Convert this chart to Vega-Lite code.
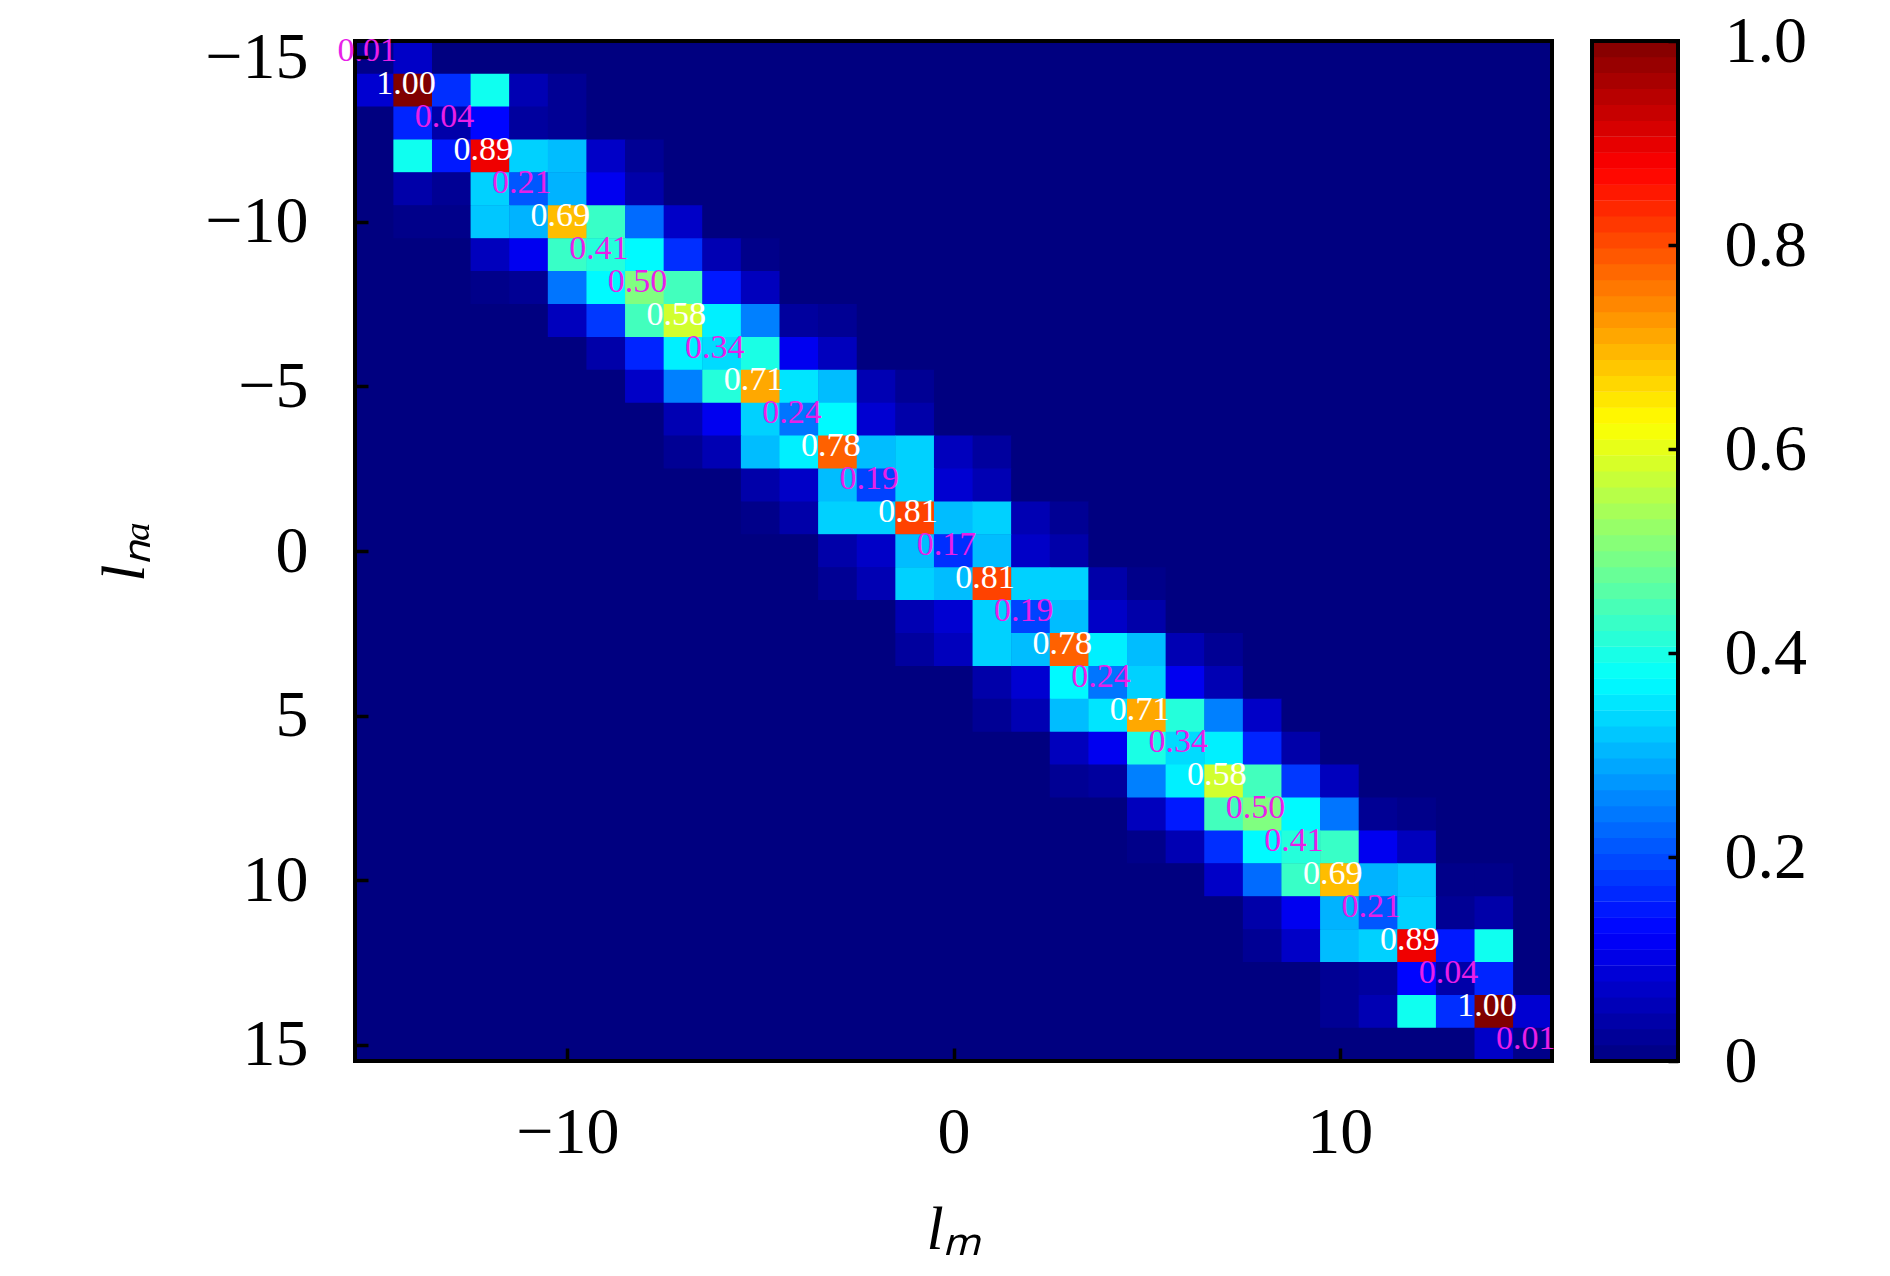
{"$schema":"https://vega.github.io/schema/vega-lite/v6.json","background":"white","padding":{"left":93,"top":8,"right":0,"bottom":0},"config":{"view":{"stroke":null},"font":"Liberation Serif"},"spacing":34,
"datasets":{"cells":[
{"m":-15,"n":-15,"v":0.01},{"m":-14,"n":-15,"v":0.07},{"m":-13,"n":-15,"v":0},{"m":-12,"n":-15,"v":0},{"m":-11,"n":-15,"v":0},{"m":-10,"n":-15,"v":0},{"m":-9,"n":-15,"v":0},{"m":-8,"n":-15,"v":0},{"m":-7,"n":-15,"v":0},{"m":-6,"n":-15,"v":0},{"m":-5,"n":-15,"v":0},{"m":-4,"n":-15,"v":0},{"m":-3,"n":-15,"v":0},{"m":-2,"n":-15,"v":0},{"m":-1,"n":-15,"v":0},{"m":0,"n":-15,"v":0},{"m":1,"n":-15,"v":0},{"m":2,"n":-15,"v":0},{"m":3,"n":-15,"v":0},{"m":4,"n":-15,"v":0},{"m":5,"n":-15,"v":0},{"m":6,"n":-15,"v":0},{"m":7,"n":-15,"v":0},{"m":8,"n":-15,"v":0},{"m":9,"n":-15,"v":0},{"m":10,"n":-15,"v":0},{"m":11,"n":-15,"v":0},{"m":12,"n":-15,"v":0},{"m":13,"n":-15,"v":0},{"m":14,"n":-15,"v":0},{"m":15,"n":-15,"v":0},
{"m":-15,"n":-14,"v":0.08},{"m":-14,"n":-14,"v":1},{"m":-13,"n":-14,"v":0.17},{"m":-12,"n":-14,"v":0.39},{"m":-11,"n":-14,"v":0.05},{"m":-10,"n":-14,"v":0.02},{"m":-9,"n":-14,"v":0},{"m":-8,"n":-14,"v":0},{"m":-7,"n":-14,"v":0},{"m":-6,"n":-14,"v":0},{"m":-5,"n":-14,"v":0},{"m":-4,"n":-14,"v":0},{"m":-3,"n":-14,"v":0},{"m":-2,"n":-14,"v":0},{"m":-1,"n":-14,"v":0},{"m":0,"n":-14,"v":0},{"m":1,"n":-14,"v":0},{"m":2,"n":-14,"v":0},{"m":3,"n":-14,"v":0},{"m":4,"n":-14,"v":0},{"m":5,"n":-14,"v":0},{"m":6,"n":-14,"v":0},{"m":7,"n":-14,"v":0},{"m":8,"n":-14,"v":0},{"m":9,"n":-14,"v":0},{"m":10,"n":-14,"v":0},{"m":11,"n":-14,"v":0},{"m":12,"n":-14,"v":0},{"m":13,"n":-14,"v":0},{"m":14,"n":-14,"v":0},{"m":15,"n":-14,"v":0},
{"m":-15,"n":-13,"v":0},{"m":-14,"n":-13,"v":0.16},{"m":-13,"n":-13,"v":0.04},{"m":-12,"n":-13,"v":0.13},{"m":-11,"n":-13,"v":0.03},{"m":-10,"n":-13,"v":0.02},{"m":-9,"n":-13,"v":0},{"m":-8,"n":-13,"v":0},{"m":-7,"n":-13,"v":0},{"m":-6,"n":-13,"v":0},{"m":-5,"n":-13,"v":0},{"m":-4,"n":-13,"v":0},{"m":-3,"n":-13,"v":0},{"m":-2,"n":-13,"v":0},{"m":-1,"n":-13,"v":0},{"m":0,"n":-13,"v":0},{"m":1,"n":-13,"v":0},{"m":2,"n":-13,"v":0},{"m":3,"n":-13,"v":0},{"m":4,"n":-13,"v":0},{"m":5,"n":-13,"v":0},{"m":6,"n":-13,"v":0},{"m":7,"n":-13,"v":0},{"m":8,"n":-13,"v":0},{"m":9,"n":-13,"v":0},{"m":10,"n":-13,"v":0},{"m":11,"n":-13,"v":0},{"m":12,"n":-13,"v":0},{"m":13,"n":-13,"v":0},{"m":14,"n":-13,"v":0},{"m":15,"n":-13,"v":0},
{"m":-15,"n":-12,"v":0},{"m":-14,"n":-12,"v":0.39},{"m":-13,"n":-12,"v":0.15},{"m":-12,"n":-12,"v":0.89},{"m":-11,"n":-12,"v":0.33},{"m":-10,"n":-12,"v":0.31},{"m":-9,"n":-12,"v":0.07},{"m":-8,"n":-12,"v":0.02},{"m":-7,"n":-12,"v":0},{"m":-6,"n":-12,"v":0},{"m":-5,"n":-12,"v":0},{"m":-4,"n":-12,"v":0},{"m":-3,"n":-12,"v":0},{"m":-2,"n":-12,"v":0},{"m":-1,"n":-12,"v":0},{"m":0,"n":-12,"v":0},{"m":1,"n":-12,"v":0},{"m":2,"n":-12,"v":0},{"m":3,"n":-12,"v":0},{"m":4,"n":-12,"v":0},{"m":5,"n":-12,"v":0},{"m":6,"n":-12,"v":0},{"m":7,"n":-12,"v":0},{"m":8,"n":-12,"v":0},{"m":9,"n":-12,"v":0},{"m":10,"n":-12,"v":0},{"m":11,"n":-12,"v":0},{"m":12,"n":-12,"v":0},{"m":13,"n":-12,"v":0},{"m":14,"n":-12,"v":0},{"m":15,"n":-12,"v":0},
{"m":-15,"n":-11,"v":0},{"m":-14,"n":-11,"v":0.04},{"m":-13,"n":-11,"v":0.02},{"m":-12,"n":-11,"v":0.33},{"m":-11,"n":-11,"v":0.21},{"m":-10,"n":-11,"v":0.3},{"m":-9,"n":-11,"v":0.11},{"m":-8,"n":-11,"v":0.04},{"m":-7,"n":-11,"v":0},{"m":-6,"n":-11,"v":0},{"m":-5,"n":-11,"v":0},{"m":-4,"n":-11,"v":0},{"m":-3,"n":-11,"v":0},{"m":-2,"n":-11,"v":0},{"m":-1,"n":-11,"v":0},{"m":0,"n":-11,"v":0},{"m":1,"n":-11,"v":0},{"m":2,"n":-11,"v":0},{"m":3,"n":-11,"v":0},{"m":4,"n":-11,"v":0},{"m":5,"n":-11,"v":0},{"m":6,"n":-11,"v":0},{"m":7,"n":-11,"v":0},{"m":8,"n":-11,"v":0},{"m":9,"n":-11,"v":0},{"m":10,"n":-11,"v":0},{"m":11,"n":-11,"v":0},{"m":12,"n":-11,"v":0},{"m":13,"n":-11,"v":0},{"m":14,"n":-11,"v":0},{"m":15,"n":-11,"v":0},
{"m":-15,"n":-10,"v":0},{"m":-14,"n":-10,"v":0.01},{"m":-13,"n":-10,"v":0.01},{"m":-12,"n":-10,"v":0.32},{"m":-11,"n":-10,"v":0.3},{"m":-10,"n":-10,"v":0.69},{"m":-9,"n":-10,"v":0.43},{"m":-8,"n":-10,"v":0.23},{"m":-7,"n":-10,"v":0.07},{"m":-6,"n":-10,"v":0},{"m":-5,"n":-10,"v":0},{"m":-4,"n":-10,"v":0},{"m":-3,"n":-10,"v":0},{"m":-2,"n":-10,"v":0},{"m":-1,"n":-10,"v":0},{"m":0,"n":-10,"v":0},{"m":1,"n":-10,"v":0},{"m":2,"n":-10,"v":0},{"m":3,"n":-10,"v":0},{"m":4,"n":-10,"v":0},{"m":5,"n":-10,"v":0},{"m":6,"n":-10,"v":0},{"m":7,"n":-10,"v":0},{"m":8,"n":-10,"v":0},{"m":9,"n":-10,"v":0},{"m":10,"n":-10,"v":0},{"m":11,"n":-10,"v":0},{"m":12,"n":-10,"v":0},{"m":13,"n":-10,"v":0},{"m":14,"n":-10,"v":0},{"m":15,"n":-10,"v":0},
{"m":-15,"n":-9,"v":0},{"m":-14,"n":-9,"v":0},{"m":-13,"n":-9,"v":0},{"m":-12,"n":-9,"v":0.06},{"m":-11,"n":-9,"v":0.11},{"m":-10,"n":-9,"v":0.43},{"m":-9,"n":-9,"v":0.41},{"m":-8,"n":-9,"v":0.37},{"m":-7,"n":-9,"v":0.17},{"m":-6,"n":-9,"v":0.05},{"m":-5,"n":-9,"v":0.01},{"m":-4,"n":-9,"v":0},{"m":-3,"n":-9,"v":0},{"m":-2,"n":-9,"v":0},{"m":-1,"n":-9,"v":0},{"m":0,"n":-9,"v":0},{"m":1,"n":-9,"v":0},{"m":2,"n":-9,"v":0},{"m":3,"n":-9,"v":0},{"m":4,"n":-9,"v":0},{"m":5,"n":-9,"v":0},{"m":6,"n":-9,"v":0},{"m":7,"n":-9,"v":0},{"m":8,"n":-9,"v":0},{"m":9,"n":-9,"v":0},{"m":10,"n":-9,"v":0},{"m":11,"n":-9,"v":0},{"m":12,"n":-9,"v":0},{"m":13,"n":-9,"v":0},{"m":14,"n":-9,"v":0},{"m":15,"n":-9,"v":0},
{"m":-15,"n":-8,"v":0},{"m":-14,"n":-8,"v":0},{"m":-13,"n":-8,"v":0},{"m":-12,"n":-8,"v":0.01},{"m":-11,"n":-8,"v":0.02},{"m":-10,"n":-8,"v":0.24},{"m":-9,"n":-8,"v":0.37},{"m":-8,"n":-8,"v":0.5},{"m":-7,"n":-8,"v":0.44},{"m":-6,"n":-8,"v":0.15},{"m":-5,"n":-8,"v":0.06},{"m":-4,"n":-8,"v":0},{"m":-3,"n":-8,"v":0},{"m":-2,"n":-8,"v":0},{"m":-1,"n":-8,"v":0},{"m":0,"n":-8,"v":0},{"m":1,"n":-8,"v":0},{"m":2,"n":-8,"v":0},{"m":3,"n":-8,"v":0},{"m":4,"n":-8,"v":0},{"m":5,"n":-8,"v":0},{"m":6,"n":-8,"v":0},{"m":7,"n":-8,"v":0},{"m":8,"n":-8,"v":0},{"m":9,"n":-8,"v":0},{"m":10,"n":-8,"v":0},{"m":11,"n":-8,"v":0},{"m":12,"n":-8,"v":0},{"m":13,"n":-8,"v":0},{"m":14,"n":-8,"v":0},{"m":15,"n":-8,"v":0},
{"m":-15,"n":-7,"v":0},{"m":-14,"n":-7,"v":0},{"m":-13,"n":-7,"v":0},{"m":-12,"n":-7,"v":0},{"m":-11,"n":-7,"v":0},{"m":-10,"n":-7,"v":0.06},{"m":-9,"n":-7,"v":0.18},{"m":-8,"n":-7,"v":0.44},{"m":-7,"n":-7,"v":0.58},{"m":-6,"n":-7,"v":0.36},{"m":-5,"n":-7,"v":0.25},{"m":-4,"n":-7,"v":0.03},{"m":-3,"n":-7,"v":0.02},{"m":-2,"n":-7,"v":0},{"m":-1,"n":-7,"v":0},{"m":0,"n":-7,"v":0},{"m":1,"n":-7,"v":0},{"m":2,"n":-7,"v":0},{"m":3,"n":-7,"v":0},{"m":4,"n":-7,"v":0},{"m":5,"n":-7,"v":0},{"m":6,"n":-7,"v":0},{"m":7,"n":-7,"v":0},{"m":8,"n":-7,"v":0},{"m":9,"n":-7,"v":0},{"m":10,"n":-7,"v":0},{"m":11,"n":-7,"v":0},{"m":12,"n":-7,"v":0},{"m":13,"n":-7,"v":0},{"m":14,"n":-7,"v":0},{"m":15,"n":-7,"v":0},
{"m":-15,"n":-6,"v":0},{"m":-14,"n":-6,"v":0},{"m":-13,"n":-6,"v":0},{"m":-12,"n":-6,"v":0},{"m":-11,"n":-6,"v":0},{"m":-10,"n":-6,"v":0},{"m":-9,"n":-6,"v":0.04},{"m":-8,"n":-6,"v":0.16},{"m":-7,"n":-6,"v":0.36},{"m":-6,"n":-6,"v":0.34},{"m":-5,"n":-6,"v":0.4},{"m":-4,"n":-6,"v":0.11},{"m":-3,"n":-6,"v":0.06},{"m":-2,"n":-6,"v":0},{"m":-1,"n":-6,"v":0},{"m":0,"n":-6,"v":0},{"m":1,"n":-6,"v":0},{"m":2,"n":-6,"v":0},{"m":3,"n":-6,"v":0},{"m":4,"n":-6,"v":0},{"m":5,"n":-6,"v":0},{"m":6,"n":-6,"v":0},{"m":7,"n":-6,"v":0},{"m":8,"n":-6,"v":0},{"m":9,"n":-6,"v":0},{"m":10,"n":-6,"v":0},{"m":11,"n":-6,"v":0},{"m":12,"n":-6,"v":0},{"m":13,"n":-6,"v":0},{"m":14,"n":-6,"v":0},{"m":15,"n":-6,"v":0},
{"m":-15,"n":-5,"v":0},{"m":-14,"n":-5,"v":0},{"m":-13,"n":-5,"v":0},{"m":-12,"n":-5,"v":0},{"m":-11,"n":-5,"v":0},{"m":-10,"n":-5,"v":0},{"m":-9,"n":-5,"v":0},{"m":-8,"n":-5,"v":0.07},{"m":-7,"n":-5,"v":0.25},{"m":-6,"n":-5,"v":0.41},{"m":-5,"n":-5,"v":0.71},{"m":-4,"n":-5,"v":0.35},{"m":-3,"n":-5,"v":0.31},{"m":-2,"n":-5,"v":0.05},{"m":-1,"n":-5,"v":0.02},{"m":0,"n":-5,"v":0},{"m":1,"n":-5,"v":0},{"m":2,"n":-5,"v":0},{"m":3,"n":-5,"v":0},{"m":4,"n":-5,"v":0},{"m":5,"n":-5,"v":0},{"m":6,"n":-5,"v":0},{"m":7,"n":-5,"v":0},{"m":8,"n":-5,"v":0},{"m":9,"n":-5,"v":0},{"m":10,"n":-5,"v":0},{"m":11,"n":-5,"v":0},{"m":12,"n":-5,"v":0},{"m":13,"n":-5,"v":0},{"m":14,"n":-5,"v":0},{"m":15,"n":-5,"v":0},
{"m":-15,"n":-4,"v":0},{"m":-14,"n":-4,"v":0},{"m":-13,"n":-4,"v":0},{"m":-12,"n":-4,"v":0},{"m":-11,"n":-4,"v":0},{"m":-10,"n":-4,"v":0},{"m":-9,"n":-4,"v":0},{"m":-8,"n":-4,"v":0},{"m":-7,"n":-4,"v":0.05},{"m":-6,"n":-4,"v":0.11},{"m":-5,"n":-4,"v":0.33},{"m":-4,"n":-4,"v":0.24},{"m":-3,"n":-4,"v":0.37},{"m":-2,"n":-4,"v":0.08},{"m":-1,"n":-4,"v":0.04},{"m":0,"n":-4,"v":0},{"m":1,"n":-4,"v":0},{"m":2,"n":-4,"v":0},{"m":3,"n":-4,"v":0},{"m":4,"n":-4,"v":0},{"m":5,"n":-4,"v":0},{"m":6,"n":-4,"v":0},{"m":7,"n":-4,"v":0},{"m":8,"n":-4,"v":0},{"m":9,"n":-4,"v":0},{"m":10,"n":-4,"v":0},{"m":11,"n":-4,"v":0},{"m":12,"n":-4,"v":0},{"m":13,"n":-4,"v":0},{"m":14,"n":-4,"v":0},{"m":15,"n":-4,"v":0},
{"m":-15,"n":-3,"v":0},{"m":-14,"n":-3,"v":0},{"m":-13,"n":-3,"v":0},{"m":-12,"n":-3,"v":0},{"m":-11,"n":-3,"v":0},{"m":-10,"n":-3,"v":0},{"m":-9,"n":-3,"v":0},{"m":-8,"n":-3,"v":0},{"m":-7,"n":-3,"v":0.02},{"m":-6,"n":-3,"v":0.05},{"m":-5,"n":-3,"v":0.31},{"m":-4,"n":-3,"v":0.36},{"m":-3,"n":-3,"v":0.78},{"m":-2,"n":-3,"v":0.31},{"m":-1,"n":-3,"v":0.33},{"m":0,"n":-3,"v":0.06},{"m":1,"n":-3,"v":0.03},{"m":2,"n":-3,"v":0},{"m":3,"n":-3,"v":0},{"m":4,"n":-3,"v":0},{"m":5,"n":-3,"v":0},{"m":6,"n":-3,"v":0},{"m":7,"n":-3,"v":0},{"m":8,"n":-3,"v":0},{"m":9,"n":-3,"v":0},{"m":10,"n":-3,"v":0},{"m":11,"n":-3,"v":0},{"m":12,"n":-3,"v":0},{"m":13,"n":-3,"v":0},{"m":14,"n":-3,"v":0},{"m":15,"n":-3,"v":0},
{"m":-15,"n":-2,"v":0},{"m":-14,"n":-2,"v":0},{"m":-13,"n":-2,"v":0},{"m":-12,"n":-2,"v":0},{"m":-11,"n":-2,"v":0},{"m":-10,"n":-2,"v":0},{"m":-9,"n":-2,"v":0},{"m":-8,"n":-2,"v":0},{"m":-7,"n":-2,"v":0},{"m":-6,"n":-2,"v":0},{"m":-5,"n":-2,"v":0.04},{"m":-4,"n":-2,"v":0.07},{"m":-3,"n":-2,"v":0.31},{"m":-2,"n":-2,"v":0.19},{"m":-1,"n":-2,"v":0.33},{"m":0,"n":-2,"v":0.08},{"m":1,"n":-2,"v":0.05},{"m":2,"n":-2,"v":0},{"m":3,"n":-2,"v":0},{"m":4,"n":-2,"v":0},{"m":5,"n":-2,"v":0},{"m":6,"n":-2,"v":0},{"m":7,"n":-2,"v":0},{"m":8,"n":-2,"v":0},{"m":9,"n":-2,"v":0},{"m":10,"n":-2,"v":0},{"m":11,"n":-2,"v":0},{"m":12,"n":-2,"v":0},{"m":13,"n":-2,"v":0},{"m":14,"n":-2,"v":0},{"m":15,"n":-2,"v":0},
{"m":-15,"n":-1,"v":0},{"m":-14,"n":-1,"v":0},{"m":-13,"n":-1,"v":0},{"m":-12,"n":-1,"v":0},{"m":-11,"n":-1,"v":0},{"m":-10,"n":-1,"v":0},{"m":-9,"n":-1,"v":0},{"m":-8,"n":-1,"v":0},{"m":-7,"n":-1,"v":0},{"m":-6,"n":-1,"v":0},{"m":-5,"n":-1,"v":0.01},{"m":-4,"n":-1,"v":0.04},{"m":-3,"n":-1,"v":0.33},{"m":-2,"n":-1,"v":0.33},{"m":-1,"n":-1,"v":0.81},{"m":0,"n":-1,"v":0.31},{"m":1,"n":-1,"v":0.33},{"m":2,"n":-1,"v":0.05},{"m":3,"n":-1,"v":0.02},{"m":4,"n":-1,"v":0},{"m":5,"n":-1,"v":0},{"m":6,"n":-1,"v":0},{"m":7,"n":-1,"v":0},{"m":8,"n":-1,"v":0},{"m":9,"n":-1,"v":0},{"m":10,"n":-1,"v":0},{"m":11,"n":-1,"v":0},{"m":12,"n":-1,"v":0},{"m":13,"n":-1,"v":0},{"m":14,"n":-1,"v":0},{"m":15,"n":-1,"v":0},
{"m":-15,"n":0,"v":0},{"m":-14,"n":0,"v":0},{"m":-13,"n":0,"v":0},{"m":-12,"n":0,"v":0},{"m":-11,"n":0,"v":0},{"m":-10,"n":0,"v":0},{"m":-9,"n":0,"v":0},{"m":-8,"n":0,"v":0},{"m":-7,"n":0,"v":0},{"m":-6,"n":0,"v":0},{"m":-5,"n":0,"v":0},{"m":-4,"n":0,"v":0},{"m":-3,"n":0,"v":0.04},{"m":-2,"n":0,"v":0.07},{"m":-1,"n":0,"v":0.31},{"m":0,"n":0,"v":0.17},{"m":1,"n":0,"v":0.31},{"m":2,"n":0,"v":0.07},{"m":3,"n":0,"v":0.04},{"m":4,"n":0,"v":0},{"m":5,"n":0,"v":0},{"m":6,"n":0,"v":0},{"m":7,"n":0,"v":0},{"m":8,"n":0,"v":0},{"m":9,"n":0,"v":0},{"m":10,"n":0,"v":0},{"m":11,"n":0,"v":0},{"m":12,"n":0,"v":0},{"m":13,"n":0,"v":0},{"m":14,"n":0,"v":0},{"m":15,"n":0,"v":0},
{"m":-15,"n":1,"v":0},{"m":-14,"n":1,"v":0},{"m":-13,"n":1,"v":0},{"m":-12,"n":1,"v":0},{"m":-11,"n":1,"v":0},{"m":-10,"n":1,"v":0},{"m":-9,"n":1,"v":0},{"m":-8,"n":1,"v":0},{"m":-7,"n":1,"v":0},{"m":-6,"n":1,"v":0},{"m":-5,"n":1,"v":0},{"m":-4,"n":1,"v":0},{"m":-3,"n":1,"v":0.02},{"m":-2,"n":1,"v":0.05},{"m":-1,"n":1,"v":0.33},{"m":0,"n":1,"v":0.31},{"m":1,"n":1,"v":0.81},{"m":2,"n":1,"v":0.33},{"m":3,"n":1,"v":0.33},{"m":4,"n":1,"v":0.04},{"m":5,"n":1,"v":0.01},{"m":6,"n":1,"v":0},{"m":7,"n":1,"v":0},{"m":8,"n":1,"v":0},{"m":9,"n":1,"v":0},{"m":10,"n":1,"v":0},{"m":11,"n":1,"v":0},{"m":12,"n":1,"v":0},{"m":13,"n":1,"v":0},{"m":14,"n":1,"v":0},{"m":15,"n":1,"v":0},
{"m":-15,"n":2,"v":0},{"m":-14,"n":2,"v":0},{"m":-13,"n":2,"v":0},{"m":-12,"n":2,"v":0},{"m":-11,"n":2,"v":0},{"m":-10,"n":2,"v":0},{"m":-9,"n":2,"v":0},{"m":-8,"n":2,"v":0},{"m":-7,"n":2,"v":0},{"m":-6,"n":2,"v":0},{"m":-5,"n":2,"v":0},{"m":-4,"n":2,"v":0},{"m":-3,"n":2,"v":0},{"m":-2,"n":2,"v":0},{"m":-1,"n":2,"v":0.05},{"m":0,"n":2,"v":0.08},{"m":1,"n":2,"v":0.33},{"m":2,"n":2,"v":0.19},{"m":3,"n":2,"v":0.31},{"m":4,"n":2,"v":0.07},{"m":5,"n":2,"v":0.04},{"m":6,"n":2,"v":0},{"m":7,"n":2,"v":0},{"m":8,"n":2,"v":0},{"m":9,"n":2,"v":0},{"m":10,"n":2,"v":0},{"m":11,"n":2,"v":0},{"m":12,"n":2,"v":0},{"m":13,"n":2,"v":0},{"m":14,"n":2,"v":0},{"m":15,"n":2,"v":0},
{"m":-15,"n":3,"v":0},{"m":-14,"n":3,"v":0},{"m":-13,"n":3,"v":0},{"m":-12,"n":3,"v":0},{"m":-11,"n":3,"v":0},{"m":-10,"n":3,"v":0},{"m":-9,"n":3,"v":0},{"m":-8,"n":3,"v":0},{"m":-7,"n":3,"v":0},{"m":-6,"n":3,"v":0},{"m":-5,"n":3,"v":0},{"m":-4,"n":3,"v":0},{"m":-3,"n":3,"v":0},{"m":-2,"n":3,"v":0},{"m":-1,"n":3,"v":0.03},{"m":0,"n":3,"v":0.06},{"m":1,"n":3,"v":0.33},{"m":2,"n":3,"v":0.31},{"m":3,"n":3,"v":0.78},{"m":4,"n":3,"v":0.36},{"m":5,"n":3,"v":0.31},{"m":6,"n":3,"v":0.05},{"m":7,"n":3,"v":0.02},{"m":8,"n":3,"v":0},{"m":9,"n":3,"v":0},{"m":10,"n":3,"v":0},{"m":11,"n":3,"v":0},{"m":12,"n":3,"v":0},{"m":13,"n":3,"v":0},{"m":14,"n":3,"v":0},{"m":15,"n":3,"v":0},
{"m":-15,"n":4,"v":0},{"m":-14,"n":4,"v":0},{"m":-13,"n":4,"v":0},{"m":-12,"n":4,"v":0},{"m":-11,"n":4,"v":0},{"m":-10,"n":4,"v":0},{"m":-9,"n":4,"v":0},{"m":-8,"n":4,"v":0},{"m":-7,"n":4,"v":0},{"m":-6,"n":4,"v":0},{"m":-5,"n":4,"v":0},{"m":-4,"n":4,"v":0},{"m":-3,"n":4,"v":0},{"m":-2,"n":4,"v":0},{"m":-1,"n":4,"v":0},{"m":0,"n":4,"v":0},{"m":1,"n":4,"v":0.04},{"m":2,"n":4,"v":0.08},{"m":3,"n":4,"v":0.37},{"m":4,"n":4,"v":0.24},{"m":5,"n":4,"v":0.33},{"m":6,"n":4,"v":0.11},{"m":7,"n":4,"v":0.05},{"m":8,"n":4,"v":0},{"m":9,"n":4,"v":0},{"m":10,"n":4,"v":0},{"m":11,"n":4,"v":0},{"m":12,"n":4,"v":0},{"m":13,"n":4,"v":0},{"m":14,"n":4,"v":0},{"m":15,"n":4,"v":0},
{"m":-15,"n":5,"v":0},{"m":-14,"n":5,"v":0},{"m":-13,"n":5,"v":0},{"m":-12,"n":5,"v":0},{"m":-11,"n":5,"v":0},{"m":-10,"n":5,"v":0},{"m":-9,"n":5,"v":0},{"m":-8,"n":5,"v":0},{"m":-7,"n":5,"v":0},{"m":-6,"n":5,"v":0},{"m":-5,"n":5,"v":0},{"m":-4,"n":5,"v":0},{"m":-3,"n":5,"v":0},{"m":-2,"n":5,"v":0},{"m":-1,"n":5,"v":0},{"m":0,"n":5,"v":0},{"m":1,"n":5,"v":0.02},{"m":2,"n":5,"v":0.05},{"m":3,"n":5,"v":0.31},{"m":4,"n":5,"v":0.35},{"m":5,"n":5,"v":0.71},{"m":6,"n":5,"v":0.41},{"m":7,"n":5,"v":0.25},{"m":8,"n":5,"v":0.07},{"m":9,"n":5,"v":0},{"m":10,"n":5,"v":0},{"m":11,"n":5,"v":0},{"m":12,"n":5,"v":0},{"m":13,"n":5,"v":0},{"m":14,"n":5,"v":0},{"m":15,"n":5,"v":0},
{"m":-15,"n":6,"v":0},{"m":-14,"n":6,"v":0},{"m":-13,"n":6,"v":0},{"m":-12,"n":6,"v":0},{"m":-11,"n":6,"v":0},{"m":-10,"n":6,"v":0},{"m":-9,"n":6,"v":0},{"m":-8,"n":6,"v":0},{"m":-7,"n":6,"v":0},{"m":-6,"n":6,"v":0},{"m":-5,"n":6,"v":0},{"m":-4,"n":6,"v":0},{"m":-3,"n":6,"v":0},{"m":-2,"n":6,"v":0},{"m":-1,"n":6,"v":0},{"m":0,"n":6,"v":0},{"m":1,"n":6,"v":0},{"m":2,"n":6,"v":0},{"m":3,"n":6,"v":0.06},{"m":4,"n":6,"v":0.11},{"m":5,"n":6,"v":0.4},{"m":6,"n":6,"v":0.34},{"m":7,"n":6,"v":0.36},{"m":8,"n":6,"v":0.16},{"m":9,"n":6,"v":0.04},{"m":10,"n":6,"v":0},{"m":11,"n":6,"v":0},{"m":12,"n":6,"v":0},{"m":13,"n":6,"v":0},{"m":14,"n":6,"v":0},{"m":15,"n":6,"v":0},
{"m":-15,"n":7,"v":0},{"m":-14,"n":7,"v":0},{"m":-13,"n":7,"v":0},{"m":-12,"n":7,"v":0},{"m":-11,"n":7,"v":0},{"m":-10,"n":7,"v":0},{"m":-9,"n":7,"v":0},{"m":-8,"n":7,"v":0},{"m":-7,"n":7,"v":0},{"m":-6,"n":7,"v":0},{"m":-5,"n":7,"v":0},{"m":-4,"n":7,"v":0},{"m":-3,"n":7,"v":0},{"m":-2,"n":7,"v":0},{"m":-1,"n":7,"v":0},{"m":0,"n":7,"v":0},{"m":1,"n":7,"v":0},{"m":2,"n":7,"v":0},{"m":3,"n":7,"v":0.02},{"m":4,"n":7,"v":0.03},{"m":5,"n":7,"v":0.25},{"m":6,"n":7,"v":0.36},{"m":7,"n":7,"v":0.58},{"m":8,"n":7,"v":0.44},{"m":9,"n":7,"v":0.18},{"m":10,"n":7,"v":0.06},{"m":11,"n":7,"v":0},{"m":12,"n":7,"v":0},{"m":13,"n":7,"v":0},{"m":14,"n":7,"v":0},{"m":15,"n":7,"v":0},
{"m":-15,"n":8,"v":0},{"m":-14,"n":8,"v":0},{"m":-13,"n":8,"v":0},{"m":-12,"n":8,"v":0},{"m":-11,"n":8,"v":0},{"m":-10,"n":8,"v":0},{"m":-9,"n":8,"v":0},{"m":-8,"n":8,"v":0},{"m":-7,"n":8,"v":0},{"m":-6,"n":8,"v":0},{"m":-5,"n":8,"v":0},{"m":-4,"n":8,"v":0},{"m":-3,"n":8,"v":0},{"m":-2,"n":8,"v":0},{"m":-1,"n":8,"v":0},{"m":0,"n":8,"v":0},{"m":1,"n":8,"v":0},{"m":2,"n":8,"v":0},{"m":3,"n":8,"v":0},{"m":4,"n":8,"v":0},{"m":5,"n":8,"v":0.06},{"m":6,"n":8,"v":0.15},{"m":7,"n":8,"v":0.44},{"m":8,"n":8,"v":0.5},{"m":9,"n":8,"v":0.37},{"m":10,"n":8,"v":0.24},{"m":11,"n":8,"v":0.02},{"m":12,"n":8,"v":0.01},{"m":13,"n":8,"v":0},{"m":14,"n":8,"v":0},{"m":15,"n":8,"v":0},
{"m":-15,"n":9,"v":0},{"m":-14,"n":9,"v":0},{"m":-13,"n":9,"v":0},{"m":-12,"n":9,"v":0},{"m":-11,"n":9,"v":0},{"m":-10,"n":9,"v":0},{"m":-9,"n":9,"v":0},{"m":-8,"n":9,"v":0},{"m":-7,"n":9,"v":0},{"m":-6,"n":9,"v":0},{"m":-5,"n":9,"v":0},{"m":-4,"n":9,"v":0},{"m":-3,"n":9,"v":0},{"m":-2,"n":9,"v":0},{"m":-1,"n":9,"v":0},{"m":0,"n":9,"v":0},{"m":1,"n":9,"v":0},{"m":2,"n":9,"v":0},{"m":3,"n":9,"v":0},{"m":4,"n":9,"v":0},{"m":5,"n":9,"v":0.01},{"m":6,"n":9,"v":0.05},{"m":7,"n":9,"v":0.17},{"m":8,"n":9,"v":0.37},{"m":9,"n":9,"v":0.41},{"m":10,"n":9,"v":0.43},{"m":11,"n":9,"v":0.11},{"m":12,"n":9,"v":0.06},{"m":13,"n":9,"v":0},{"m":14,"n":9,"v":0},{"m":15,"n":9,"v":0},
{"m":-15,"n":10,"v":0},{"m":-14,"n":10,"v":0},{"m":-13,"n":10,"v":0},{"m":-12,"n":10,"v":0},{"m":-11,"n":10,"v":0},{"m":-10,"n":10,"v":0},{"m":-9,"n":10,"v":0},{"m":-8,"n":10,"v":0},{"m":-7,"n":10,"v":0},{"m":-6,"n":10,"v":0},{"m":-5,"n":10,"v":0},{"m":-4,"n":10,"v":0},{"m":-3,"n":10,"v":0},{"m":-2,"n":10,"v":0},{"m":-1,"n":10,"v":0},{"m":0,"n":10,"v":0},{"m":1,"n":10,"v":0},{"m":2,"n":10,"v":0},{"m":3,"n":10,"v":0},{"m":4,"n":10,"v":0},{"m":5,"n":10,"v":0},{"m":6,"n":10,"v":0},{"m":7,"n":10,"v":0.07},{"m":8,"n":10,"v":0.23},{"m":9,"n":10,"v":0.43},{"m":10,"n":10,"v":0.69},{"m":11,"n":10,"v":0.3},{"m":12,"n":10,"v":0.32},{"m":13,"n":10,"v":0.01},{"m":14,"n":10,"v":0.01},{"m":15,"n":10,"v":0},
{"m":-15,"n":11,"v":0},{"m":-14,"n":11,"v":0},{"m":-13,"n":11,"v":0},{"m":-12,"n":11,"v":0},{"m":-11,"n":11,"v":0},{"m":-10,"n":11,"v":0},{"m":-9,"n":11,"v":0},{"m":-8,"n":11,"v":0},{"m":-7,"n":11,"v":0},{"m":-6,"n":11,"v":0},{"m":-5,"n":11,"v":0},{"m":-4,"n":11,"v":0},{"m":-3,"n":11,"v":0},{"m":-2,"n":11,"v":0},{"m":-1,"n":11,"v":0},{"m":0,"n":11,"v":0},{"m":1,"n":11,"v":0},{"m":2,"n":11,"v":0},{"m":3,"n":11,"v":0},{"m":4,"n":11,"v":0},{"m":5,"n":11,"v":0},{"m":6,"n":11,"v":0},{"m":7,"n":11,"v":0},{"m":8,"n":11,"v":0.04},{"m":9,"n":11,"v":0.11},{"m":10,"n":11,"v":0.3},{"m":11,"n":11,"v":0.21},{"m":12,"n":11,"v":0.33},{"m":13,"n":11,"v":0.02},{"m":14,"n":11,"v":0.04},{"m":15,"n":11,"v":0},
{"m":-15,"n":12,"v":0},{"m":-14,"n":12,"v":0},{"m":-13,"n":12,"v":0},{"m":-12,"n":12,"v":0},{"m":-11,"n":12,"v":0},{"m":-10,"n":12,"v":0},{"m":-9,"n":12,"v":0},{"m":-8,"n":12,"v":0},{"m":-7,"n":12,"v":0},{"m":-6,"n":12,"v":0},{"m":-5,"n":12,"v":0},{"m":-4,"n":12,"v":0},{"m":-3,"n":12,"v":0},{"m":-2,"n":12,"v":0},{"m":-1,"n":12,"v":0},{"m":0,"n":12,"v":0},{"m":1,"n":12,"v":0},{"m":2,"n":12,"v":0},{"m":3,"n":12,"v":0},{"m":4,"n":12,"v":0},{"m":5,"n":12,"v":0},{"m":6,"n":12,"v":0},{"m":7,"n":12,"v":0},{"m":8,"n":12,"v":0.02},{"m":9,"n":12,"v":0.07},{"m":10,"n":12,"v":0.31},{"m":11,"n":12,"v":0.33},{"m":12,"n":12,"v":0.89},{"m":13,"n":12,"v":0.15},{"m":14,"n":12,"v":0.39},{"m":15,"n":12,"v":0},
{"m":-15,"n":13,"v":0},{"m":-14,"n":13,"v":0},{"m":-13,"n":13,"v":0},{"m":-12,"n":13,"v":0},{"m":-11,"n":13,"v":0},{"m":-10,"n":13,"v":0},{"m":-9,"n":13,"v":0},{"m":-8,"n":13,"v":0},{"m":-7,"n":13,"v":0},{"m":-6,"n":13,"v":0},{"m":-5,"n":13,"v":0},{"m":-4,"n":13,"v":0},{"m":-3,"n":13,"v":0},{"m":-2,"n":13,"v":0},{"m":-1,"n":13,"v":0},{"m":0,"n":13,"v":0},{"m":1,"n":13,"v":0},{"m":2,"n":13,"v":0},{"m":3,"n":13,"v":0},{"m":4,"n":13,"v":0},{"m":5,"n":13,"v":0},{"m":6,"n":13,"v":0},{"m":7,"n":13,"v":0},{"m":8,"n":13,"v":0},{"m":9,"n":13,"v":0},{"m":10,"n":13,"v":0.02},{"m":11,"n":13,"v":0.03},{"m":12,"n":13,"v":0.13},{"m":13,"n":13,"v":0.04},{"m":14,"n":13,"v":0.16},{"m":15,"n":13,"v":0},
{"m":-15,"n":14,"v":0},{"m":-14,"n":14,"v":0},{"m":-13,"n":14,"v":0},{"m":-12,"n":14,"v":0},{"m":-11,"n":14,"v":0},{"m":-10,"n":14,"v":0},{"m":-9,"n":14,"v":0},{"m":-8,"n":14,"v":0},{"m":-7,"n":14,"v":0},{"m":-6,"n":14,"v":0},{"m":-5,"n":14,"v":0},{"m":-4,"n":14,"v":0},{"m":-3,"n":14,"v":0},{"m":-2,"n":14,"v":0},{"m":-1,"n":14,"v":0},{"m":0,"n":14,"v":0},{"m":1,"n":14,"v":0},{"m":2,"n":14,"v":0},{"m":3,"n":14,"v":0},{"m":4,"n":14,"v":0},{"m":5,"n":14,"v":0},{"m":6,"n":14,"v":0},{"m":7,"n":14,"v":0},{"m":8,"n":14,"v":0},{"m":9,"n":14,"v":0},{"m":10,"n":14,"v":0.02},{"m":11,"n":14,"v":0.05},{"m":12,"n":14,"v":0.39},{"m":13,"n":14,"v":0.17},{"m":14,"n":14,"v":1},{"m":15,"n":14,"v":0.08},
{"m":-15,"n":15,"v":0},{"m":-14,"n":15,"v":0},{"m":-13,"n":15,"v":0},{"m":-12,"n":15,"v":0},{"m":-11,"n":15,"v":0},{"m":-10,"n":15,"v":0},{"m":-9,"n":15,"v":0},{"m":-8,"n":15,"v":0},{"m":-7,"n":15,"v":0},{"m":-6,"n":15,"v":0},{"m":-5,"n":15,"v":0},{"m":-4,"n":15,"v":0},{"m":-3,"n":15,"v":0},{"m":-2,"n":15,"v":0},{"m":-1,"n":15,"v":0},{"m":0,"n":15,"v":0},{"m":1,"n":15,"v":0},{"m":2,"n":15,"v":0},{"m":3,"n":15,"v":0},{"m":4,"n":15,"v":0},{"m":5,"n":15,"v":0},{"m":6,"n":15,"v":0},{"m":7,"n":15,"v":0},{"m":8,"n":15,"v":0},{"m":9,"n":15,"v":0},{"m":10,"n":15,"v":0},{"m":11,"n":15,"v":0},{"m":12,"n":15,"v":0},{"m":13,"n":15,"v":0},{"m":14,"n":15,"v":0.07},{"m":15,"n":15,"v":0.01}
],
"bar":[{"v":0.0078},{"v":0.0234},{"v":0.0391},{"v":0.0547},{"v":0.0703},{"v":0.0859},{"v":0.1016},{"v":0.1172},{"v":0.1328},{"v":0.1484},{"v":0.1641},{"v":0.1797},{"v":0.1953},{"v":0.2109},{"v":0.2266},{"v":0.2422},{"v":0.2578},{"v":0.2734},{"v":0.2891},{"v":0.3047},{"v":0.3203},{"v":0.3359},{"v":0.3516},{"v":0.3672},{"v":0.3828},{"v":0.3984},{"v":0.4141},{"v":0.4297},{"v":0.4453},{"v":0.4609},{"v":0.4766},{"v":0.4922},{"v":0.5078},{"v":0.5234},{"v":0.5391},{"v":0.5547},{"v":0.5703},{"v":0.5859},{"v":0.6016},{"v":0.6172},{"v":0.6328},{"v":0.6484},{"v":0.6641},{"v":0.6797},{"v":0.6953},{"v":0.7109},{"v":0.7266},{"v":0.7422},{"v":0.7578},{"v":0.7734},{"v":0.7891},{"v":0.8047},{"v":0.8203},{"v":0.8359},{"v":0.8516},{"v":0.8672},{"v":0.8828},{"v":0.8984},{"v":0.9141},{"v":0.9297},{"v":0.9453},{"v":0.9609},{"v":0.9766},{"v":0.9922}]},
"hconcat":[
{"width":1197,"height":1020,"view":{"fill":"#000080","stroke":null},"data":{"name":"cells"},
"encoding":{"x":{"field":"m","type":"quantitative","scale":{"domain":[-15.5,15.5],"nice":false,"zero":false},"axis":{"values":[-10,0,10],"grid":false,"domain":false,"tickColor":"black","tickWidth":3.5,"tickSize":-13,"labelFont":"Liberation Serif","labelFontSize":66,"labelColor":"black","labelPadding":52,"labelFlush":false,"title":"lₘ","titleFont":"Liberation Serif","titleFontStyle":"italic","titleFontWeight":"normal","titleFontSize":62,"titleColor":"black","titlePadding":34,"zindex":1}},
"y":{"field":"n","type":"quantitative","scale":{"domain":[-15.5,15.5],"reverse":true,"nice":false,"zero":false},"axis":{"values":[-15,-10,-5,0,5,10,15],"grid":false,"domain":false,"tickColor":"black","tickWidth":3.5,"tickSize":-13,"labelFont":"Liberation Serif","labelFontSize":66,"labelColor":"black","labelPadding":60,"labelFlush":false,"title":"lₙₐ","titleFont":"Liberation Serif","titleFontStyle":"italic","titleFontWeight":"normal","titleFontSize":62,"titleColor":"black","titlePadding":48,"zindex":1}}},
"layer":[
{"mark":{"type":"rect","width":39.1,"height":33.4,"clip":true},"encoding":{"color":{"field":"v","type":"quantitative","scale":{"domain":[0,0.125,0.375,0.625,0.875,1],"range":["#000080","#0000ff","#00ffff","#ffff00","#ff0000","#800000"],"interpolate":"rgb"},"legend":null}}},
{"mark":{"type":"rect","fillOpacity":0,"stroke":"black","strokeWidth":4},"encoding":{"x":{"datum":-15.5},"x2":{"datum":15.5},"y":{"datum":-15.5},"y2":{"datum":15.5}}},
{"transform":[{"filter":"datum.m==datum.n"}],"mark":{"type":"text","font":"Liberation Serif","fontSize":34,"dx":-7,"dy":-6,"baseline":"middle","align":"center"},"encoding":{"text":{"field":"v","type":"quantitative","format":".2f"},"color":{"condition":{"test":"datum.v>0.5","value":"white"},"value":"#e81fe8"}}}
]},
{"width":86,"height":1020,"data":{"name":"bar"},
"encoding":{"y":{"field":"v","type":"quantitative","scale":{"domain":[0,1],"nice":false,"zero":false},"axis":{"orient":"right","values":[0,0.2,0.4,0.6,0.8,1],"labelExpr":"datum.value==0?'0':format(datum.value,'.1f')","grid":false,"domain":false,"tickColor":"black","tickWidth":3.5,"tickSize":-10,"labelFont":"Liberation Serif","labelFontSize":66,"labelColor":"black","labelPadding":56,"labelFlush":false,"labelOverlap":false,"labelBound":false,"title":null,"zindex":1}}},
"layer":[
{"mark":{"type":"rect","height":16.4,"clip":true},"encoding":{"color":{"field":"v","type":"quantitative","scale":{"domain":[0,0.125,0.375,0.625,0.875,1],"range":["#000080","#0000ff","#00ffff","#ffff00","#ff0000","#800000"],"interpolate":"rgb"},"legend":null}}},
{"mark":{"type":"rect","fillOpacity":0,"stroke":"black","strokeWidth":4},"encoding":{"y":{"datum":0},"y2":{"datum":1}}}
]}
],
"resolve":{"scale":{"color":"independent"}}}
